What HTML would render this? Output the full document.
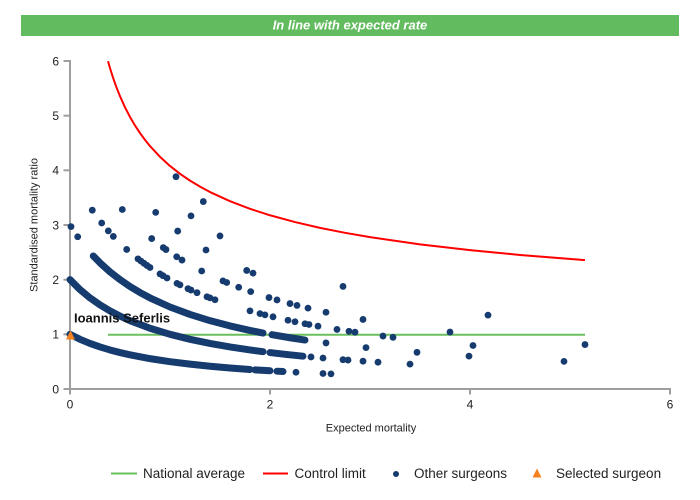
<!DOCTYPE html>
<html>
<head>
<meta charset="utf-8">
<style>
  html,body{margin:0;padding:0;background:#fff;}
  svg{display:block;}
  text{font-family:"Liberation Sans",Arial,sans-serif;}
</style>
</head>
<body>
<svg width="700" height="500" viewBox="0 0 700 500" xmlns="http://www.w3.org/2000/svg">
  <!-- title bar -->
  <rect x="21" y="15" width="658" height="21" fill="#62bb5e"/>
  <text x="350" y="29.5" text-anchor="middle" font-size="13" font-weight="bold" font-style="italic" fill="#ffffff">In line with expected rate</text>

  <!-- axes -->
  <g stroke="#9e9e9e" stroke-width="2" fill="none">
    <line x1="70" y1="60" x2="70" y2="390"/>
    <line x1="69" y1="389" x2="671" y2="389"/>
    <line x1="63.5" y1="389" x2="70" y2="389"/>
    <line x1="63.5" y1="334.3" x2="70" y2="334.3"/>
    <line x1="63.5" y1="279.7" x2="70" y2="279.7"/>
    <line x1="63.5" y1="225" x2="70" y2="225"/>
    <line x1="63.5" y1="170.3" x2="70" y2="170.3"/>
    <line x1="63.5" y1="115.7" x2="70" y2="115.7"/>
    <line x1="63.5" y1="61" x2="70" y2="61"/>
    <line x1="70" y1="389" x2="70" y2="394.5"/>
    <line x1="270" y1="389" x2="270" y2="394.5"/>
    <line x1="470" y1="389" x2="470" y2="394.5"/>
    <line x1="670" y1="389" x2="670" y2="394.5"/>
  </g>
  <g font-size="12" fill="#222" text-anchor="end">
    <text x="59" y="393.3">0</text>
    <text x="59" y="338.6">1</text>
    <text x="59" y="284">2</text>
    <text x="59" y="229.3">3</text>
    <text x="59" y="174.6">4</text>
    <text x="59" y="120">5</text>
    <text x="59" y="65.3">6</text>
  </g>
  <g font-size="12" fill="#222" text-anchor="middle">
    <text x="70" y="408.5">0</text>
    <text x="270" y="408.5">2</text>
    <text x="470" y="408.5">4</text>
    <text x="670" y="408.5">6</text>
  </g>
  <text x="371" y="431.5" font-size="11" fill="#222" text-anchor="middle">Expected mortality</text>
  <text transform="translate(37.5,225) rotate(-90)" font-size="11" fill="#222" text-anchor="middle">Standardised mortality ratio</text>

  <!-- national average -->
  <line x1="108" y1="334.8" x2="585" y2="334.8" stroke="#6abf5f" stroke-width="2"/>

  <!-- control limit -->
  <polyline fill="none" stroke="#ff0000" stroke-width="2" stroke-linejoin="round" stroke-linecap="butt"
    points="108,61.17 110,68.12 113,77.55 116,86.07 120,96.21 125,107.29 130,116.96 135,125.48 140,133.09 145,139.9 150,146.08 160,156.85 170,165.96 180,173.79 190,180.63 200,186.66 210,192.03 230,201.22 250,208.83 270,215.27 295,222.08 320,227.84 345,232.8 370,237.12 420,244.33 470,250.15 520,254.96 585,260.14"/>

  <!-- other surgeons: dense bands -->
  <g fill="none" stroke="#163b6e" stroke-width="7" stroke-linecap="round" stroke-linejoin="round">
    <!-- k=1 -->
    <polyline points="70,334.33 80,339.3 90,343.44 100,346.95 110,349.95 120,352.56 130,354.83 150,358.63 170,361.67 190,364.15 210,366.22 230,367.97 250,369.48"/>
    <polyline points="255,369.82 270,370.78"/>
    <polyline points="277,371.19 283,371.53"/>
    <!-- k=2 -->
    <polyline points="70,279.67 80,289.6 90,297.89 100,304.9 110,310.9 120,316.11 130,320.67 150,328.26 170,334.33 190,339.3 210,343.44 230,346.95 250,349.95 263,351.68"/>
    <polyline points="270,352.56 285,354.29 303,356.17"/>
    <!-- k=3 -->
    <polyline points="93.3,255.99 100,262.85 110,271.86 120,279.67 130,286.5 140,292.53 150,297.89 170,307 190,314.45 210,320.67 230,325.92 250,330.43 263,333.03"/>
    <polyline points="272,334.69 290,337.75 305,340.04"/>
  </g>

  <!-- other surgeons: individual dots -->
  <g fill="#163b6e">
    <!-- k=1 -->
    <circle cx="296" cy="372.23" r="3.4"/>
    <circle cx="323" cy="373.51" r="3.4"/>
    <circle cx="331" cy="373.86" r="3.4"/>
    <!-- k=2 -->
    <circle cx="311" cy="356.94" r="3.4"/>
    <circle cx="323" cy="358.03" r="3.4"/>
    <circle cx="343" cy="359.69" r="3.4"/>
    <circle cx="348" cy="360.08" r="3.4"/>
    <circle cx="363" cy="361.18" r="3.4"/>
    <circle cx="378" cy="362.2" r="3.4"/>
    <circle cx="410" cy="364.15" r="3.4"/>
    <!-- k=3 -->
    <circle cx="71" cy="226.62" r="3.4"/>
    <circle cx="77.7" cy="236.72" r="3.4"/>
    <circle cx="326" cy="342.93" r="3.4"/>
    <circle cx="366" cy="347.59" r="3.4"/>
    <circle cx="417" cy="352.31" r="3.4"/>
    <circle cx="469" cy="356.13" r="3.4"/>
    <circle cx="564" cy="361.39" r="3.4"/>
    <!-- k=4 -->
    <circle cx="92.3" cy="210.21" r="3.4"/>
    <circle cx="101.7" cy="222.97" r="3.4"/>
    <circle cx="108.3" cy="230.89" r="3.4"/>
    <circle cx="113.3" cy="236.41" r="3.4"/>
    <circle cx="126.7" cy="249.46" r="3.4"/>
    <circle cx="138" cy="258.84" r="3.4"/>
    <circle cx="141" cy="261.12" r="3.4"/>
    <circle cx="144" cy="263.33" r="3.4"/>
    <circle cx="147" cy="265.46" r="3.4"/>
    <circle cx="150" cy="267.52" r="3.4"/>
    <circle cx="160" cy="273.91" r="3.4"/>
    <circle cx="163" cy="275.7" r="3.4"/>
    <circle cx="167" cy="278" r="3.4"/>
    <circle cx="177" cy="283.36" r="3.4"/>
    <circle cx="180" cy="284.87" r="3.4"/>
    <circle cx="188" cy="288.69" r="3.4"/>
    <circle cx="191" cy="290.05" r="3.4"/>
    <circle cx="197" cy="292.67" r="3.4"/>
    <circle cx="207" cy="296.73" r="3.4"/>
    <circle cx="210" cy="297.89" r="3.4"/>
    <circle cx="215" cy="299.75" r="3.4"/>
    <circle cx="250" cy="310.9" r="3.4"/>
    <circle cx="260" cy="313.6" r="3.4"/>
    <circle cx="265" cy="314.88" r="3.4"/>
    <circle cx="273" cy="316.83" r="3.4"/>
    <circle cx="288" cy="320.23" r="3.4"/>
    <circle cx="295" cy="321.72" r="3.4"/>
    <circle cx="305" cy="323.73" r="3.4"/>
    <circle cx="309" cy="324.5" r="3.4"/>
    <circle cx="318" cy="326.16" r="3.4"/>
    <circle cx="337" cy="329.42" r="3.4"/>
    <circle cx="349" cy="331.3" r="3.4"/>
    <circle cx="355" cy="332.2" r="3.4"/>
    <circle cx="383" cy="336.05" r="3.4"/>
    <circle cx="393" cy="337.31" r="3.4"/>
    <circle cx="473" cy="345.53" r="3.4"/>
    <!-- k=5 -->
    <circle cx="122.3" cy="209.53" r="3.4"/>
    <circle cx="151.7" cy="238.57" r="3.4"/>
    <circle cx="163.3" cy="247.59" r="3.4"/>
    <circle cx="166" cy="249.54" r="3.4"/>
    <circle cx="176.7" cy="256.76" r="3.4"/>
    <circle cx="182" cy="260.07" r="3.4"/>
    <circle cx="201.7" cy="271.03" r="3.4"/>
    <circle cx="223" cy="280.96" r="3.4"/>
    <circle cx="226.7" cy="282.52" r="3.4"/>
    <circle cx="238.7" cy="287.28" r="3.4"/>
    <circle cx="250.7" cy="291.62" r="3.4"/>
    <circle cx="269" cy="297.58" r="3.4"/>
    <circle cx="277" cy="299.96" r="3.4"/>
    <circle cx="290" cy="303.58" r="3.4"/>
    <circle cx="297" cy="305.41" r="3.4"/>
    <circle cx="308" cy="308.13" r="3.4"/>
    <circle cx="326" cy="312.22" r="3.4"/>
    <circle cx="363" cy="319.45" r="3.4"/>
    <circle cx="450" cy="332.05" r="3.4"/>
    <circle cx="585" cy="344.56" r="3.4"/>
    <!-- k=6 -->
    <circle cx="155.7" cy="212.37" r="3.4"/>
    <circle cx="177.7" cy="231.08" r="3.4"/>
    <circle cx="206" cy="250.01" r="3.4"/>
    <circle cx="246.7" cy="270.46" r="3.4"/>
    <circle cx="253" cy="273.1" r="3.4"/>
    <!-- k=7 -->
    <circle cx="191" cy="215.85" r="3.4"/>
    <circle cx="220" cy="235.93" r="3.4"/>
    <circle cx="343" cy="286.41" r="3.4"/>
    <circle cx="488" cy="315.13" r="3.4"/>
    <!-- k=8 -->
    <circle cx="176" cy="176.7" r="3.4"/>
    <circle cx="203.3" cy="201.54" r="3.4"/>
  </g>

  <!-- selected surgeon -->
  <polygon points="70.5,330.5 75,339.5 66,339.5" fill="#f5821f"/>
  <text x="74" y="322.5" font-size="13" font-weight="bold" fill="#111">Ioannis Seferlis</text>

  <!-- legend -->
  <line x1="111" y1="473.5" x2="137" y2="473.5" stroke="#6abf5f" stroke-width="2"/>
  <text x="143" y="478" font-size="13.5" fill="#222">National average</text>
  <line x1="263" y1="473.5" x2="288" y2="473.5" stroke="#ff0000" stroke-width="2"/>
  <text x="294.5" y="478" font-size="13.5" fill="#222">Control limit</text>
  <circle cx="396" cy="474" r="3" fill="#163b6e"/>
  <text x="414" y="478" font-size="13.5" fill="#222">Other surgeons</text>
  <polygon points="537,468.5 541.5,477.5 532.5,477.5" fill="#f5821f"/>
  <text x="556" y="478" font-size="13.5" fill="#222">Selected surgeon</text>
</svg>
</body>
</html>
